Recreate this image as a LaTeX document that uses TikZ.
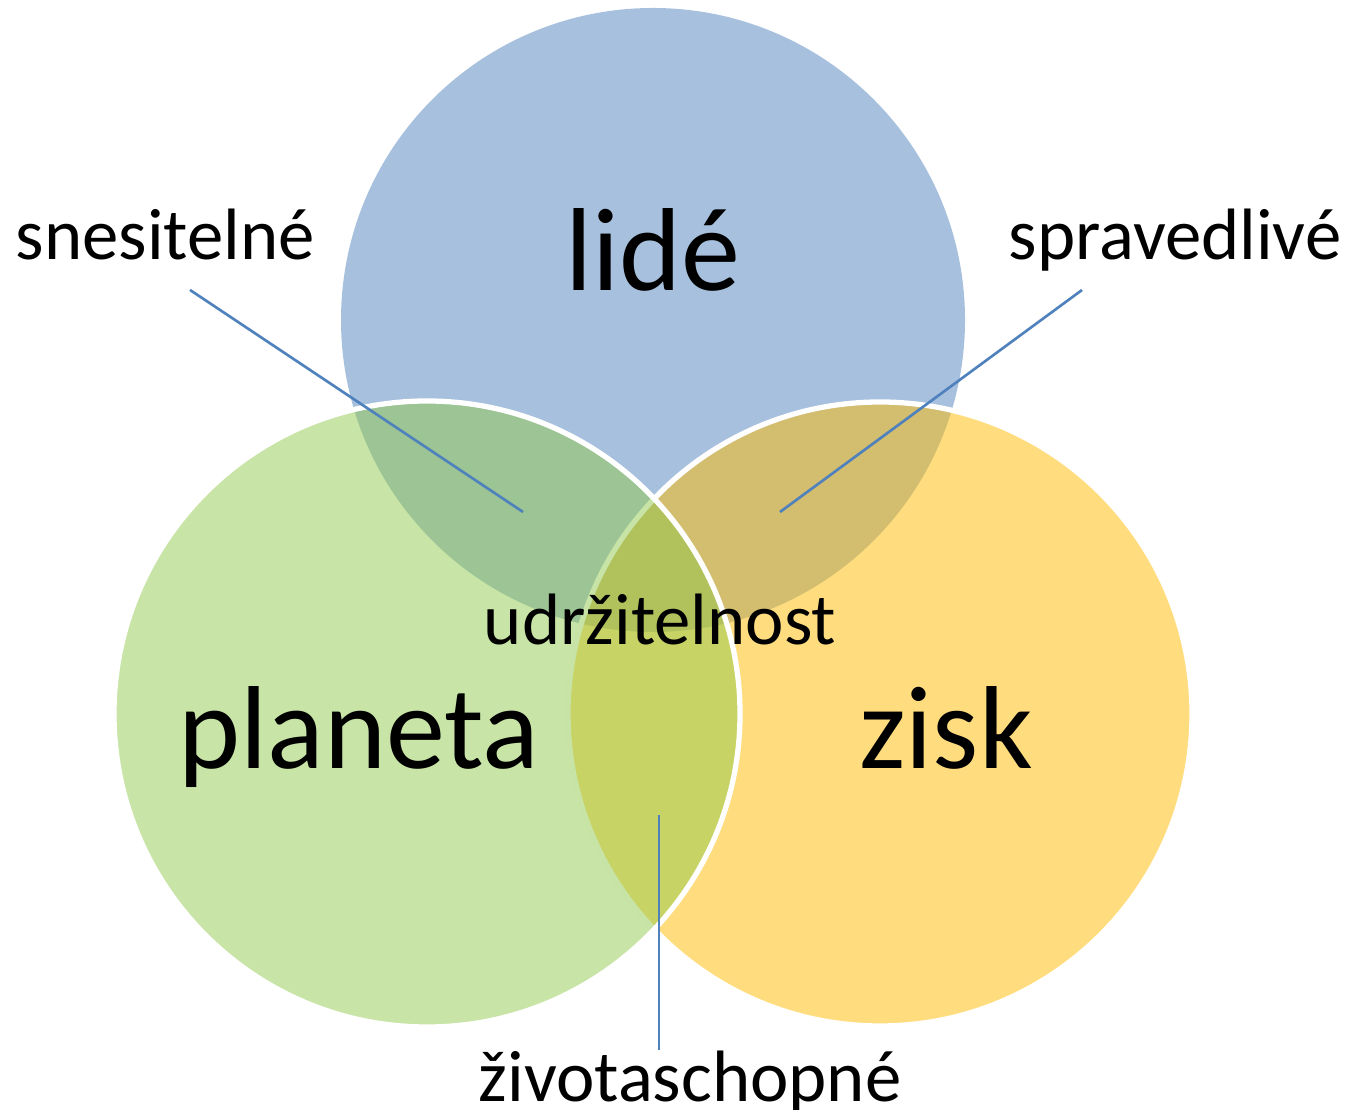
\documentclass[tikz,border=0pt]{standalone}
\usepackage{fontspec}
\setmainfont{Carlito}
\usepackage{xcolor}
\usepackage{tikz}
\usetikzlibrary{positioning}
\definecolor{peopleblue}{RGB}{79,129,189}
\definecolor{planetgreen}{RGB}{145,201,77}
\definecolor{profitgold}{RGB}{255,187,0}
\tikzstyle{set} = [fill opacity=0.5, draw opacity=1, line width=1.5pt]
\tikzstyle{bigword} = [font=\fontsize{33.6}{40}\selectfont, inner sep=0pt, anchor=base]
\tikzstyle{smallword} = [font=\fontsize{20.7}{25}\selectfont, inner sep=0pt]
\tikzstyle{pointer} = [peopleblue, line width=0.75pt]

\begin{document}
\begin{tikzpicture}
\useasboundingbox (0,0) rectangle (13.52,11.09);

% Three circles
\fill[set, peopleblue] (6.53,7.89) circle (3.12);
\draw[set, fill=profitgold, draw=white] (8.80,3.95) circle (3.12);
\draw[set, fill=planetgreen, draw=white] (4.27,3.95) circle (3.13);

% Pointer lines
\coordinate (snesTail) at (1.90,8.19);
\coordinate (snesTip) at (5.23,5.97);
\draw[pointer] (snesTail) -- (snesTip);

\coordinate (spravTail) at (10.82,8.19);
\coordinate (spravTip) at (7.80,5.97);
\draw[pointer] (spravTail) -- (spravTip);

\coordinate (zivotTip) at (6.59,2.94);
\coordinate (zivotTail) at (6.59,0.59);
\draw[pointer] (zivotTail) -- (zivotTip);

% Circle names
\node[bigword] (lide) at (6.53,8.18) {lidé};
\node[bigword] (planeta) at (3.59,3.40) {planeta};
\node[bigword] (zisk) at (9.46,3.40) {zisk};

% Overlap labels
\node[smallword, anchor=base] (udrz) at (6.60,4.64) {udržitelnost};
\node[smallword, anchor=base west] (snes) at (0.15,8.49) {snesitelné};
\node[smallword, anchor=base east] (sprav) at (13.42,8.49) {spravedlivé};
\node[smallword, anchor=base] (zivot) at (6.90,0.08) {životaschopné};
\end{tikzpicture}
\end{document}
